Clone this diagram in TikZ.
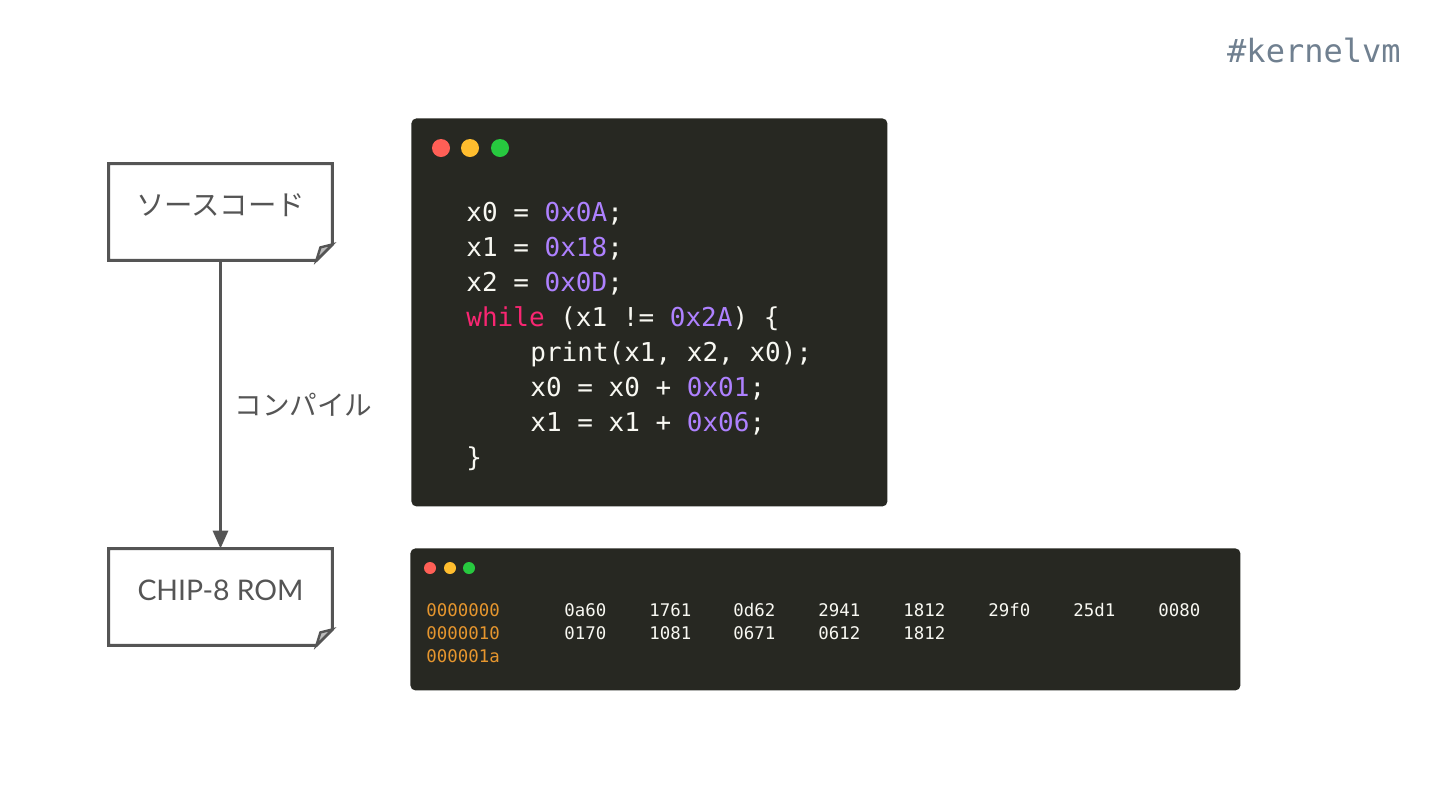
\documentclass[tikz,border=0pt]{standalone}
\usepackage{fontspec}
\setmainfont{Lato}
\newfontfamily\jpfont{Noto Sans CJK JP}
\newfontfamily\monofont{DejaVu Sans Mono}
\usetikzlibrary{arrows.meta,calc}
\definecolor{ink}{HTML}{555555}
\definecolor{termbg}{HTML}{272822}
\definecolor{codefg}{HTML}{F8F8F2}
\definecolor{numc}{HTML}{AE81FF}
\definecolor{kwc}{HTML}{F92672}
\definecolor{offc}{HTML}{E6962E}
\definecolor{dotr}{HTML}{FF5F56}
\definecolor{doty}{HTML}{FFBD2E}
\definecolor{dotg}{HTML}{27C93F}
\definecolor{tagc}{HTML}{708090}
\definecolor{foldc}{HTML}{BBBBBB}
\newcommand{\hx}[1]{\textcolor{numc}{#1}}
\begin{document}
\begin{tikzpicture}[x=0.5pt,y=-0.5pt,
  docbox/.style={minimum width=111.5pt,minimum height=48pt,inner sep=0pt},
  doctext/.style={inner sep=0pt,text=ink},
  docline/.style={draw=ink,line width=1.5pt,line join=miter},
  code/.style={anchor=base west,inner sep=0pt,text=codefg,font=\monofont\fontsize{13pt}{15pt}\selectfont},
  hexoff/.style={anchor=base west,inner sep=0pt,text=offc,font=\monofont\fontsize{8.7pt}{10pt}\selectfont},
  hexval/.style={anchor=base west,inner sep=0pt,text=codefg,font=\monofont\fontsize{8.7pt}{10pt}\selectfont},
  term/.style={fill=termbg,rounded corners=2.5pt,draw=none,inner sep=0pt}]
\fill[white] (0,0) rectangle (1440,810);
\useasboundingbox (0,0) rectangle (1440,810);

% tag
\node[anchor=east,inner sep=0pt,text=tagc,font=\monofont\fontsize{16pt}{18pt}\selectfont] (tag) at (1401,50) {\#kernelvm};

% document boxes
\node[docbox] (src) at (220.5,212) {};
\node[docbox] (rom) at (220.5,597) {};
\node[doctext,font=\jpfont\fontsize{14.2pt}{16pt}\selectfont] (srct) at ($(src.center)+(0,-7)$) {ソースコード};
\node[doctext,font=\fontsize{14.2pt}{16pt}\selectfont] (romt) at ($(rom.center)+(0,-7)$) {CHIP-8 ROM};
\foreach \n in {src,rom}{
  \draw[docline] (\n.north west) -- (\n.north east) -- ($(\n.south east)+(0,-16)$) -- ($(\n.south east)+(-16,0)$) -- (\n.south west) -- cycle;
  \draw[docline,fill=foldc,line width=1.2pt] ($(\n.south east)+(0,-16)$) -- ($(\n.south east)+(-12,-13)$) -- ($(\n.south east)+(-16,0)$) -- cycle;
}
\draw[draw=ink,line width=1.5pt,-{Triangle[length=9pt,width=7.5pt]}] (src.south) -- (rom.north);
\node[anchor=west,inner sep=0pt,text=ink,font=\jpfont\fontsize{13.8pt}{15pt}\selectfont] (lbl) at (234,405) {コンパイル};

% code window
\node[term,minimum width=238pt,minimum height=194pt,anchor=north west] (cw) at (411,118) {};
\fill[dotr] (441,148) circle (4.5pt);
\fill[doty] (470,148) circle (4.5pt);
\fill[dotg] (500,148) circle (4.5pt);
\node[code] (c1) at (466,221) {x0 = \hx{0x0A};};
\node[code] (c2) at (466,256) {x1 = \hx{0x18};};
\node[code] (c3) at (466,291) {x2 = \hx{0x0D};};
\node[code] (c4) at (466,326) {\textcolor{kwc}{while} (x1 != \hx{0x2A}) \{};
\node[code] (c5) at (530,361) {print(x1, x2, x0);};
\node[code] (c6) at (530,396) {x0 = x0 + \hx{0x01};};
\node[code] (c7) at (530,431) {x1 = x1 + \hx{0x06};};
\node[code] (c8) at (466,466) {\}};

% hex window
\node[term,minimum width=415pt,minimum height=71pt,anchor=north west] (hw) at (410,548) {};
\fill[dotr] (430,568) circle (3pt);
\fill[doty] (450,568) circle (3pt);
\fill[dotg] (469,568) circle (3pt);
\node[hexoff] (o1) at (426,616) {0000000};
\node[hexoff] (o2) at (426,639) {0000010};
\node[hexoff] (o3) at (426,662) {000001a};
\node[hexval] (a1) at (564,616) {0a60};
\node[hexval] (a2) at (649,616) {1761};
\node[hexval] (a3) at (733,616) {0d62};
\node[hexval] (a4) at (818,616) {2941};
\node[hexval] (a5) at (903,616) {1812};
\node[hexval] (a6) at (988,616) {29f0};
\node[hexval] (a7) at (1073,616) {25d1};
\node[hexval] (a8) at (1158,616) {0080};
\node[hexval] (b1) at (564,639) {0170};
\node[hexval] (b2) at (649,639) {1081};
\node[hexval] (b3) at (733,639) {0671};
\node[hexval] (b4) at (818,639) {0612};
\node[hexval] (b5) at (903,639) {1812};
\end{tikzpicture}
\end{document}
